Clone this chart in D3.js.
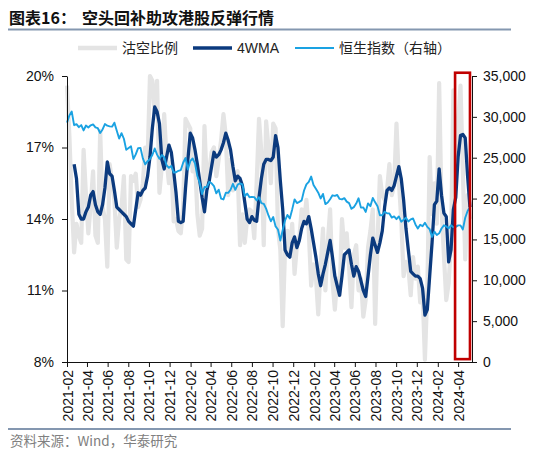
<!DOCTYPE html>
<html><head><meta charset="utf-8">
<script src="https://cdn.jsdelivr.net/npm/d3@7"></script>
<style>body{margin:0;background:#fff}svg{display:block}</style>
</head><body><svg id="c" width="550" height="456"></svg>
<script>
// ---- data ----
const firstWeek = "2021-02-05";           // weekly observations (Fridays)
const seriesNames = ["沽空比例", "4WMA", "恒生指数（右轴）"];
const shortRatio = [
19.6,17.5,14.8,12.6,13.8,13.3,13.0,16.9,15.0,13.4,
14.6,16.0,13.3,13.0,17.7,14.5,14.0,12.0,16.3,15.6,
14.8,12.8,14.0,14.5,15.8,12.3,12.2,15.8,15.6,15.9,
14.5,14.8,15.5,17.0,16.5,20.0,19.8,18.4,19.8,15.1,
16.2,18.4,16.5,15.5,16.4,13.9,14.0,13.5,13.4,14.5,
18.2,18.0,17.8,16.0,16.5,14.2,13.3,13.6,17.9,15.4,
16.0,16.8,17.0,15.8,16.5,17.3,18.4,17.5,15.0,16.5,
15.2,15.9,16.0,12.9,14.2,13.0,14.0,14.4,14.3,13.2,
15.5,18.2,16.8,12.9,18.1,17.0,15.5,18.0,17.8,13.6,
12.7,9.5,12.8,13.5,12.6,13.8,11.7,12.9,13.2,14.4,
13.9,14.8,13.5,11.2,12.1,11.6,10.0,12.0,13.6,11.0,
13.0,14.4,11.4,10.2,11.5,10.8,14.0,12.8,13.4,12.0,
10.3,12.5,12.9,11.0,11.5,9.9,10.6,12.8,13.5,14.4,
9.6,13.1,15.8,15.0,14.8,15.2,16.3,15.0,15.4,18.0,
15.6,14.0,11.6,12.2,12.0,10.8,12.4,11.5,12.0,10.5,
11.0,8.1,11.0,16.6,14.2,15.5,13.8,19.7,14.5,12.5,
10.6,11.3,13.0,19.4,16.5,18.0,19.6,16.0,12.3,15.0,14.0];
const wma4 = [null,null,null,
16.3,15.7,14.2,14.0,14.0,14.3,14.5,15.0,15.15,14.6,
14.3,14.2,14.6,15.3,16.4,15.9,15.8,15.2,14.5,14.4,
14.3,14.2,14.1,13.9,13.8,13.7,14.4,15.1,15.0,15.2,
15.3,15.8,16.6,17.8,18.7,18.5,18.0,16.5,16.1,16.6,
17.1,16.8,16.0,15.1,13.9,13.85,13.9,15.3,16.5,17.6,
17.4,16.9,16.3,15.6,14.9,14.3,15.2,15.6,16.2,16.8,
16.6,16.7,16.9,17.2,17.6,17.3,16.9,16.2,15.6,15.8,
15.7,15.4,14.7,14.0,13.85,14.1,13.95,13.9,14.9,15.7,
16.3,16.5,16.5,16.45,16.6,17.5,17.0,15.6,14.4,12.7,
12.5,12.4,13.0,13.25,12.8,13.1,13.6,13.9,13.8,14.1,
13.6,13.0,12.4,11.7,11.2,11.7,12.1,12.6,13.1,12.4,
11.6,11.2,10.8,11.6,12.5,12.6,12.7,12.1,11.6,12.0,
11.8,11.4,11.0,10.75,11.6,12.5,13.2,12.9,12.6,13.0,
13.5,14.5,15.2,15.3,15.2,15.4,15.8,16.2,15.7,14.8,
13.6,12.7,11.8,11.7,11.6,11.6,11.5,11.1,
9.97,10.2,11.6,13.0,14.6,14.75,16.1,15.0,14.25,14.1,
12.2,12.7,14.4,14.9,16.6,17.5,17.55,17.4,15.8,14.5];
const hsi = [
29289,30173,30644,28980,29099,28740,28990,28336,28939,28699,
28970,29079,28725,28610,28027,28458,29124,28918,28842,28801,
29288,28310,27344,28004,27321,25961,26179,26391,24849,25407,
26163,26205,24920,24192,24575,24837,25331,26126,25377,24870,
25328,25050,24080,23766,23996,23193,23224,23398,23493,24383,
24966,23550,24573,24906,24327,22767,21905,20554,21412,21404,
22039,21872,21518,20638,21089,20001,19898,20717,20697,21082,
21806,21075,21719,21860,21725,20297,20609,20156,20202,20175,
19773,20170,19452,19362,18762,17933,17223,17740,16588,16211,
14863,16161,17326,17993,17573,18675,19901,19451,19593,19781,
20991,21738,22045,22689,21660,21190,20719,20010,20567,19320,
19518,19915,20400,20332,20438,19960,19895,20050,19628,19450,
18747,18950,19390,20040,18890,18916,18365,19413,19075,20079,
19539,19075,17950,17956,18382,18202,18182,17681,17810,17485,
17813,17172,17399,17664,17203,17454,17560,16830,16334,16792,
16621,17047,16535,16244,15309,15952,15533,15747,16340,16726,
16589,16354,16721,16499,16541,16724,16721,16224,17651,18476,
18964];
const xTickLabels = ["2021-02","2021-04","2021-06","2021-08","2021-10","2021-12",
"2022-02","2022-04","2022-06","2022-08","2022-10","2022-12",
"2023-02","2023-04","2023-06","2023-08","2023-10","2023-12","2024-02","2024-04"];
const leftTicks = [8, 11, 14, 17, 20];
const rightTicks = [0, 5000, 10000, 15000, 20000, 25000, 30000, 35000];
const highlight = {from: "2024-03-27", to: "2024-05-10", top: 35400, bottom: 350};

// ---- setup ----
const svg = d3.select("#c");
const parse = d3.timeParse("%Y-%m-%d");
const start = parse(firstWeek);
const dates = shortRatio.map((_, i) => d3.timeDay.offset(start, 7 * i));
const tickDates = xTickLabels.map(s => parse(s + "-05"));

const x = d3.scaleTime().domain([start, parse("2024-05-16")]).range([67, 472]);
const yL = d3.scaleLinear().domain([8, 20]).range([362, 76]);
const yR = d3.scaleLinear().domain([0, 35000]).range([362, 76]);

const numFont = "'Liberation Sans', Arial, sans-serif";
const cjkFont = "'Noto Sans CJK SC', 'Liberation Sans', sans-serif";
const cGray = "#e4e4e4", cDark = "#0b3a7e", cLight = "#1aa2e2";

// title
svg.append("text").attr("x", 9).attr("y", 23.5)
  .attr("font-family", cjkFont).attr("font-size", 16).attr("font-weight", "bold").attr("fill", "#111")
  .call(t => {
    t.append("tspan").text("图表16：");
    t.append("tspan").attr("x", 82).text("空头回补助攻港股反弹行情");
  });
svg.append("line").attr("x1", 8).attr("x2", 511).attr("y1", 29.5).attr("y2", 29.5)
  .attr("stroke", "#8497b0").attr("stroke-width", 2);

// legend
const legend = [
  {name: seriesNames[0], color: cGray, w: 4.5, x: 78},
  {name: seriesNames[1], color: cDark, w: 3.5, x: 193},
  {name: seriesNames[2], color: cLight, w: 2, x: 295}
];
const lg = svg.append("g");
legend.forEach(d => {
  lg.append("line").attr("x1", d.x).attr("x2", d.x + 39).attr("y1", 48).attr("y2", 48)
    .attr("stroke", d.color).attr("stroke-width", d.w);
  lg.append("text").attr("x", d.x + 44).attr("y", 48).attr("dy", "0.36em")
    .attr("font-family", d.name === "4WMA" ? numFont : cjkFont).attr("font-size", 14)
    .attr("fill", "#222").text(d.name);
});

// series
const lineL = vals => d3.line().defined(d => d != null).x((d, i) => x(dates[i])).y(d => yL(d))(vals);
const lineR = d3.line().x((d, i) => x(dates[i])).y(d => yR(d));

svg.append("path").attr("d", lineL(shortRatio)).attr("fill", "none")
  .attr("stroke", cGray).attr("stroke-width", 4.2).attr("stroke-linejoin", "round");
svg.append("path").attr("d", lineL(wma4)).attr("fill", "none")
  .attr("stroke", cDark).attr("stroke-width", 3.3).attr("stroke-linejoin", "round");
svg.append("path").attr("d", lineR(hsi)).attr("fill", "none")
  .attr("stroke", cLight).attr("stroke-width", 1.9).attr("stroke-linejoin", "round");

// axes
const styleAxis = g => {
  g.selectAll(".domain").attr("stroke", "#111");
  g.selectAll(".tick line").attr("stroke", "#111");
  g.selectAll("text").attr("font-family", numFont).attr("font-size", 14).attr("fill", "#111");
};
svg.append("g").attr("transform", "translate(67,0)")
  .call(d3.axisLeft(yL).tickValues(leftTicks).tickFormat(d => d + "%").tickSize(5).tickSizeOuter(0).tickPadding(8))
  .call(styleAxis);
svg.append("g").attr("transform", "translate(472,0)")
  .call(d3.axisRight(yR).tickValues(rightTicks).tickFormat(d3.format(",")).tickSize(5).tickSizeOuter(0).tickPadding(6))
  .call(styleAxis);
const xa = svg.append("g").attr("transform", "translate(0,362)")
  .call(d3.axisBottom(x).tickValues(tickDates).tickFormat((d, i) => xTickLabels[i]).tickSize(5).tickSizeOuter(0))
  .call(styleAxis);
xa.selectAll(".domain").attr("d", `M67,0.5H472`);
xa.selectAll("text").attr("transform", "rotate(-90)").attr("text-anchor", "end")
  .attr("x", -8).attr("y", 0).attr("dy", "0.36em");

// highlight box
svg.append("rect")
  .attr("x", x(parse(highlight.from))).attr("y", yR(highlight.top))
  .attr("width", x(parse(highlight.to)) - x(parse(highlight.from)))
  .attr("height", yR(highlight.bottom) - yR(highlight.top))
  .attr("fill", "none").attr("stroke", "#c00000").attr("stroke-width", 2.6);

// source
svg.append("line").attr("x1", 8).attr("x2", 511).attr("y1", 429).attr("y2", 429)
  .attr("stroke", "#8497b0").attr("stroke-width", 2);
svg.append("text").attr("x", 10).attr("y", 446)
  .attr("font-family", cjkFont).attr("font-size", 13.5).attr("fill", "#808080")
  .text("资料来源：Wind，华泰研究");
</script></body></html>
